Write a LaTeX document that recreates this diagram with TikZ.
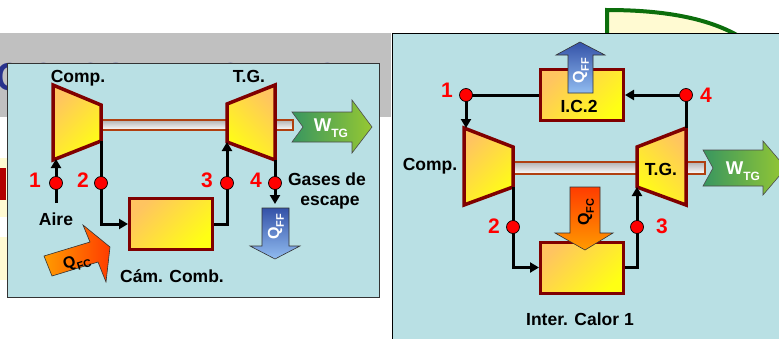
\documentclass[tikz,border=0pt]{standalone}
\usepackage{fontspec}
\setmainfont{Liberation Sans}
\usetikzlibrary{arrows.meta}
\definecolor{panel}{RGB}{185,224,228}
\definecolor{mroon}{RGB}{128,0,0}
\definecolor{orng}{RGB}{255,196,96}
\definecolor{yel}{RGB}{255,255,20}
\definecolor{shaftbd}{RGB}{176,64,16}
\definecolor{wgL}{RGB}{56,150,96}
\definecolor{wgR}{RGB}{150,200,50}
\definecolor{qbD}{RGB}{52,82,168}
\definecolor{qbL}{RGB}{145,188,240}
\definecolor{qoA}{RGB}{255,155,0}
\definecolor{qoB}{RGB}{255,60,0}
\definecolor{titleblue}{RGB}{40,50,140}
\definecolor{darkgreen}{RGB}{12,110,12}
\definecolor{paleyel}{RGB}{255,250,210}
\definecolor{band}{RGB}{192,192,192}
\newcommand{\lowsub}[2]{\raisebox{-0.3em}{\fontsize{#2}{#2}\selectfont #1}}
\tikzset{
  lbl/.style={font=\fontsize{17.5}{20}\selectfont\bfseries, inner sep=0pt, anchor=base},
  num/.style={font=\fontsize{21}{24}\selectfont\bfseries, text=red, inner sep=0pt, anchor=base},
  ptc/.style={circle, fill=red, draw=black, line width=0.7pt, minimum size=13pt, inner sep=0pt},
  plain/.style={line width=3pt},
  flow/.style={line width=3pt, -{Triangle[length=9pt,width=10pt]}},
  machine/.style={draw=mroon, line width=3.5pt, line join=miter, top color=orng, bottom color=yel},
  boxn/.style={draw=mroon, line width=3pt, top color=orng, bottom color=yel, shading angle=45,
               minimum width=83pt, minimum height=51pt, inner sep=0pt},
  shaftst/.style={draw=shaftbd, line width=1.6pt, top color=gray!60, middle color=gray!90, bottom color=white},
  warrow/.style={draw=black!70, line width=0.6pt, left color=wgL, right color=wgR},
  qff/.style={draw=black!80, line width=0.6pt, top color=qbD, bottom color=qbL},
  qfc/.style={draw=black!80, line width=0.6pt},
  wtext/.style={text=white, inner sep=0pt, font=\fontsize{18.5}{20}\selectfont\bfseries},
  qtext/.style={inner sep=0pt, font=\fontsize{16}{18}\selectfont\bfseries}
}
\begin{document}
\begin{tikzpicture}[x=1pt,y=-1pt]
\useasboundingbox (0,0) rectangle (779,338);
\clip (0,0) rectangle (779,338);
\fill[white] (0,0) rectangle (779,338);
% background decorations
\draw[darkgreen, line width=4pt, fill=paleyel] (607,40) -- (607,10) .. controls (670,10) and (715,20) .. (745,40);
\fill[band] (0,33) rectangle (391,117);
\fill[paleyel] (-1,158) rectangle (20,217);
\fill[paleyel] (-1,237) rectangle (20,280);
\fill[red!70!black] (-1,168) rectangle (6,200);
\node[anchor=base west, inner sep=0pt, text=titleblue, xscale=0.89,
      font=\fontsize{39}{40}\selectfont\bfseries] (title) at (-4,90) {CICLOS DE POTENCIA};
% panels
\draw[fill=panel, draw=black!80, line width=1pt] (7,63) rectangle (379,297);
\draw[fill=panel, draw=black, line width=1pt] (392,33) rectangle (800,360);

%%%%%%%% LEFT PANEL %%%%%%%%
\draw[shaftst] (101,120) rectangle (293,130);
\coordinate (c1tl) at (53,85);  \coordinate (c1bl) at (53,160);
\coordinate (c1tr) at (101,105); \coordinate (c1br) at (101,141);
\coordinate (t1tl) at (227,104); \coordinate (t1bl) at (227,142);
\coordinate (t1tr) at (275,85);  \coordinate (t1br) at (275,160);
\draw[machine, shading angle=45] (c1tl) -- (c1tr) -- (c1br) -- (c1bl) -- cycle;
\draw[machine, shading angle=-45] (t1tl) -- (t1tr) -- (t1br) -- (t1bl) -- cycle;
\node[lbl] (compL) at (78,82) {Comp.};
\node[lbl] (tgL) at (249,82) {T.G.};
% W arrow
\draw[warrow] (292,112) -- (303,127) -- (292,142) -- (352,142) -- (352,153) -- (372,127) -- (352,100) -- (352,112) -- cycle;
\node[wtext] (wL) at (331,128) {W\lowsub{TG}{12}};
% combustor
\node[boxn] (cc) at (171,224) {};
\node[lbl] (ccL) at (172,282) {Cám. Comb.};
% flows
\coordinate (a1s) at (56,203);
\coordinate (c1in) at (56,159);
\coordinate (exh) at (275,204);
\draw[flow] (a1s) -- (c1in);
\draw[flow] (c1br) |- (cc.west);
\draw[flow] (cc.east) -| (t1bl);
\draw[flow] (t1br) -- (exh);
\node[ptc] (p1) at (56,183) {};
\node[ptc] (p2) at (101,183) {};
\node[ptc] (p3) at (227,183) {};
\node[ptc] (p4) at (275,183) {};
\node[num] (n1) at (35,187) {1};
\node[num] (n2) at (83,187) {2};
\node[num] (n3) at (207,187) {3};
\node[num] (n4) at (256,187) {4};
\node[lbl] (aire) at (56,225) {Aire};
\node[lbl] (gas1) at (327,185) {Gases de};
\node[lbl] (gas2) at (330,205) {escape};
% Q_FF down
\draw[qff] (262,208) -- (289,208) -- (289,246) -- (300,246) -- (275,259) -- (250,246) -- (262,246) -- cycle;
\node[qtext, text=white, rotate=90] (qffL) at (276,227) {Q\lowsub{FF}{11}};
% Q_FC tilted
\draw[qfc, left color=qoA, right color=qoB] (44,256) -- (90,242) -- (83,225) -- (110,247) -- (106,282) -- (98,262) -- (52,276) -- cycle;
\node[qtext, rotate=17] (qfcL) at (77,263) {Q\lowsub{FC}{11}};

%%%%%%%% RIGHT PANEL %%%%%%%%
\draw[shaftst] (513,162) rectangle (705,174);
\coordinate (c2tl) at (464,128); \coordinate (c2bl) at (464,205);
\coordinate (c2tr) at (513,147); \coordinate (c2br) at (513,187);
\coordinate (t2tl) at (637,147); \coordinate (t2bl) at (637,187);
\coordinate (t2tr) at (686,128); \coordinate (t2br) at (686,205);
\draw[machine, shading angle=45] (c2tl) -- (c2tr) -- (c2br) -- (c2bl) -- cycle;
\draw[machine, shading angle=-45] (t2tl) -- (t2tr) -- (t2br) -- (t2bl) -- cycle;
\node[lbl] (compR) at (430,170) {Comp.};
\node[lbl] (tgR) at (661,175) {T.G.};
% W arrow right
\draw[warrow] (703,150) -- (713,168) -- (703,186) -- (763,186) -- (763,195) -- (786,168) -- (763,141) -- (763,150) -- cycle;
\node[wtext] (wR) at (743,171) {W\lowsub{TG}{12}};
% boxes
\node[boxn] (ic2) at (582,95) {};
\node[lbl] (ic2L) at (579,112) {I.C.2};
\node[boxn] (ic1) at (582,267.5) {};
\node[lbl] (ic1L) at (580,325) {Inter. Calor 1};
% flows
\coordinate (c2in) at (466,128);
\draw[flow] (ic2.west) -| (c2in);
\draw[flow] (t2tr) |- (ic2.east);
\draw[flow] (c2br) |- (ic1.west);
\draw[flow] (ic1.east) -| (t2bl);
\node[ptc] (q1) at (466,95) {};
\node[ptc] (q4) at (686,95) {};
\node[ptc] (q2) at (513,227) {};
\node[ptc] (q3) at (637,227) {};
\node[num] (m1) at (447,97) {1};
\node[num] (m4) at (706,102) {4};
\node[num] (m2) at (494,233) {2};
\node[num] (m3) at (662,233) {3};
% Q_FF up
\draw[qff] (568,93) -- (568,55) -- (556,55) -- (580,42) -- (605,55) -- (593,55) -- (593,93) -- cycle;
\node[qtext, text=white, rotate=90] (qffR) at (581,71) {Q\lowsub{FF}{11}};
% Q_FC down
\draw[qfc, top color=qoB, bottom color=qoA] (570,187) -- (600,187) -- (600,233) -- (613,233) -- (585,250) -- (555,233) -- (570,233) -- cycle;
\node[qtext, rotate=90] (qfcR) at (586,212) {Q\lowsub{FC}{11}};
\end{tikzpicture}
\end{document}
